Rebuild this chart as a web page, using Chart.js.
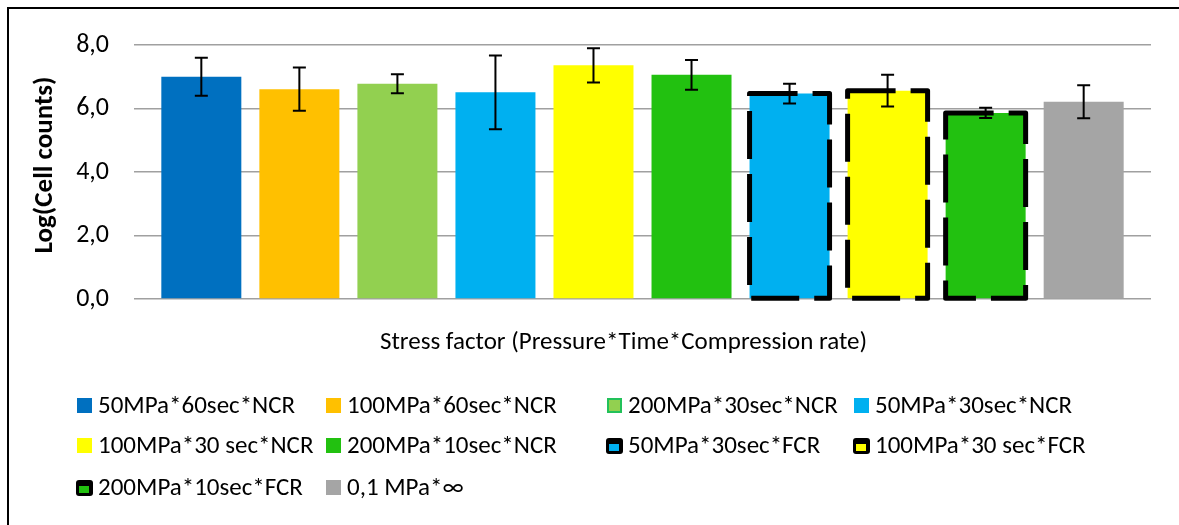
<!DOCTYPE html>
<html>
<head>
<meta charset="utf-8">
<script src="https://cdn.jsdelivr.net/npm/chart.js@4.4.0/dist/chart.umd.min.js"></script>
<style>
    body {
        margin: 0;
        width: 1179px;
        height: 525px;
        overflow: hidden;
        background: #ffffff;
        font-family: Carlito, Calibri, Lato, sans-serif;
    }
    #moldura {
        position: absolute;
        left: 7px;
        top: 7px;
        width: 1300px;
        height: 600px;
        border: 2px solid #000000;
    }
    #grafico {
        position: absolute;
        left: 0;
        top: 0;
    }
    .item-legenda {
        position: absolute;
        font-size: 25px;
        line-height: 30px;
        white-space: nowrap;
        color: #000000;
    }
    .marcador {
        position: absolute;
        left: -21px;
        top: 8px;
        width: 15px;
        height: 15px;
    }
    .marcador.tracejado {
        background: #000000;
        border-radius: 3px;
        width: 17px;
        height: 16px;
        left: -22px;
    }
    .marcador.tracejado span {
        position: absolute;
        left: 3px;
        top: 6px;
        width: 10px;
        height: 7px;
    }
</style>
</head>
<body>
<div id="moldura"></div>
<canvas id="grafico" width="1179" height="525"></canvas>
<div id="legenda"></div>

<script>
let series = [
    '50MPa*60sec*NCR', '100MPa*60sec*NCR', '200MPa*30sec*NCR', '50MPa*30sec*NCR',
    '100MPa*30 sec*NCR', '200MPa*10sec*NCR', '50MPa*30sec*FCR', '100MPa*30 sec*FCR',
    '200MPa*10sec*FCR', '0,1 MPa*\u221E'
];
let medias = [7.00, 6.61, 6.78, 6.51, 7.36, 7.06, 6.47, 6.56, 5.86, 6.21];
let erros = [0.60, 0.68, 0.30, 1.16, 0.54, 0.47, 0.31, 0.50, 0.16, 0.52];
let tracejado = [false, false, false, false, false, false, true, true, true, false];
let rotulosEixoY = ['0,0', '2,0', '4,0', '6,0', '8,0'];
let tituloX = 'Stress factor (Pressure*Time*Compression rate)';
let tituloY = 'Log(Cell counts)';

let cores = ['#0070c0', '#ffc000', '#92d050', '#00b0f0', '#ffff00', '#22c110', '#00b0f0', '#ffff00', '#22c110', '#a5a5a5'];

// error bars + dashed outlines for the FCR bars
const pluginExtras = {
    id: 'extras',
    afterDatasetsDraw(chart) {
        let ctx = chart.ctx;
        let eixoY = chart.scales.y;

        for (let i = 0; i < chart.data.datasets.length; i++) {
            let barra = chart.getDatasetMeta(i).data[0];
            ctx.save();

            if (tracejado[i]) {
                ctx.lineWidth = 5;
                ctx.strokeStyle = '#000000';
                ctx.setLineDash([48, 15]);
                ctx.lineJoin = 'round';
                ctx.strokeRect(barra.x - barra.width / 2, barra.y, barra.width, barra.base - barra.y);
            }

            let topo = eixoY.getPixelForValue(medias[i] + erros[i]);
            let fundo = eixoY.getPixelForValue(medias[i] - erros[i]);
            ctx.setLineDash([]);
            ctx.lineWidth = 2;
            ctx.strokeStyle = '#000000';
            ctx.beginPath();
            ctx.moveTo(barra.x, topo);
            ctx.lineTo(barra.x, fundo);
            ctx.moveTo(barra.x - 6.5, topo);
            ctx.lineTo(barra.x + 6.5, topo);
            ctx.moveTo(barra.x - 6.5, fundo);
            ctx.lineTo(barra.x + 6.5, fundo);
            ctx.stroke();

            ctx.restore();
        }
    },
    // axis titles (Excel centres them a bit off the plot area)
    afterDraw(chart) {
        let ctx = chart.ctx;
        let area = chart.chartArea;
        ctx.save();
        ctx.fillStyle = '#000000';
        ctx.textAlign = 'center';
        ctx.textBaseline = 'middle';

        ctx.font = '25px Carlito, Calibri, Lato, sans-serif';
        ctx.fillText(tituloX, (area.left + area.right) / 2 - 19, area.bottom + 44);

        ctx.translate(45, (area.top + area.bottom) / 2 - 7);
        ctx.rotate(-Math.PI / 2);
        ctx.font = 'bold 27px Carlito, Calibri, Lato, sans-serif';
        ctx.fillText(tituloY, 0, 0);
        ctx.restore();
    }
};

function montarGrafico() {
    Chart.defaults.font.family = 'Carlito, Calibri, Lato, sans-serif';
    Chart.defaults.font.size = 25;
    Chart.defaults.color = '#000000';

    let dados = {
        labels: [''],
        datasets: []
    };

    for (let i = 0; i < series.length; i++) {
        dados.datasets.push({
            label: series[i],
            data: [medias[i]],
            backgroundColor: cores[i],
            borderWidth: 0,
            categoryPercentage: 0.964,
            barPercentage: 0.816
        });
    }

    let config = {
        type: 'bar',
        data: dados,
        options: {
            responsive: false,
            animation: false,
            layout: {
                padding: { left: 20, right: 28, top: 45, bottom: 150 }
            },
            plugins: {
                legend: { display: false },
                tooltip: { enabled: false }
            },
            scales: {
                x: {
                    grid: { display: false },
                    border: { display: false },
                    ticks: { display: false },
                    afterFit: function (escala) {
                        escala.height = 76;
                    }
                },
                y: {
                    min: 0,
                    max: 8,
                    grid: {
                        color: '#a0a0a0',
                        lineWidth: 1.5,
                        drawTicks: false
                    },
                    border: { display: false },
                    ticks: {
                        stepSize: 2,
                        padding: 25,
                        font: { size: 26 },
                        callback: function (valor) {
                            return rotulosEixoY[valor / 2];
                        }
                    },
                    afterFit: function (escala) {
                        escala.width = 114;
                    }
                }
            }
        },
        plugins: [pluginExtras]
    };

    let meuGrafico = new Chart(document.getElementById('grafico'), config);
}

function montarLegenda() {
    let colunas = [98, 347, 628, 875];
    let linhas = [390, 430, 472];
    let legenda = document.getElementById('legenda');
    let conteudo = '';

    for (let i = 0; i < series.length; i++) {
        let x = colunas[i % 4];
        let y = linhas[Math.floor(i / 4)];
        let marcador = '';
        if (tracejado[i]) {
            marcador = `<span class="marcador tracejado"><span style="background:${cores[i]}"></span></span>`;
        } else if (i == 2) {
            marcador = `<span class="marcador" style="background:${cores[i]}; box-sizing:border-box; border:2px solid #22c15a"></span>`;
        } else {
            marcador = `<span class="marcador" style="background:${cores[i]}"></span>`;
        }
        conteudo += `<div class="item-legenda" style="left:${x}px; top:${y}px">${marcador}${series[i]}</div>`;
    }

    legenda.innerHTML = conteudo;
}

montarGrafico();
montarLegenda();
</script>
</body>
</html>
